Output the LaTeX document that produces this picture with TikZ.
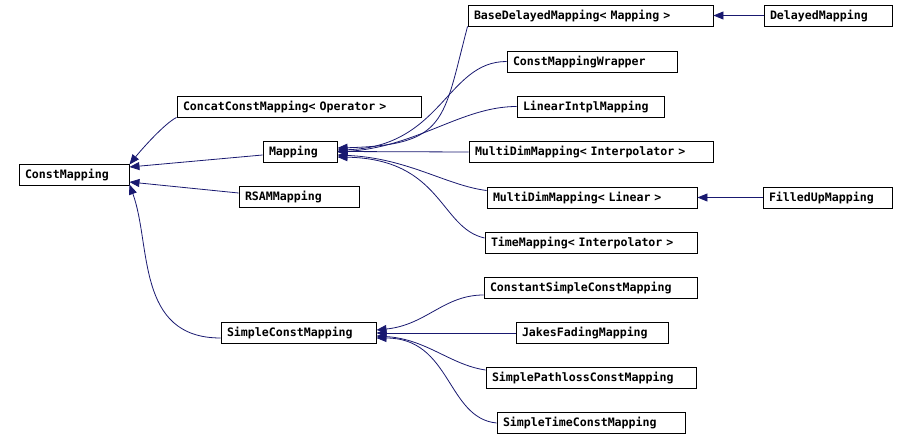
\documentclass[tikz,border=0pt]{standalone}
\usepackage{fontspec}
\newfontfamily\boxfont{DejaVu Sans Mono}
\usepackage{tikz}
\usetikzlibrary{arrows.meta}
\definecolor{edgeblue}{RGB}{25,25,112}

\begin{document}
\begin{tikzpicture}[x=1pt, y=-1pt, >={Triangle[length=10pt,width=8pt]},
  cls/.style={draw, line width=0.9pt, rectangle, minimum height=21pt, inner xsep=6pt, inner ysep=0pt,
    align=left, font=\boxfont\bfseries\fontsize{11.6}{12}\selectfont},
  inh/.style={draw=edgeblue, line width=0.8pt, ->, fill=none}]
  \useasboundingbox (0,0) rectangle (908,441);
  % base classes
  \node [cls, text width=98pt] (cm) at (74,174.5) {ConstMapping};
  \node [cls, text width=232pt] (concat) at (299,106.5) {ConcatConstMapping< Operator >};
  \node [cls, text width=62pt] (map) at (300,151.5) {Mapping};
  \node [cls, text width=108pt] (rsam) at (299,197) {RSAMMapping};
  \node [cls, text width=143pt] (scm) at (298.5,333) {SimpleConstMapping};
  % children of Mapping
  \node [cls, text width=233pt] (bdm) at (590.5,15.5) {BaseDelayedMapping< Mapping >};
  \node [cls, text width=158pt] (cmw) at (592,61.5) {ConstMappingWrapper};
  \node [cls, text width=135pt] (lin) at (590.5,106.5) {LinearIntplMapping};
  \node [cls, text width=232pt] (mdi) at (591,152) {MultiDimMapping< Interpolator >};
  \node [cls, text width=198pt] (mdl) at (592,197.5) {MultiDimMapping< Linear >};
  \node [cls, text width=200pt] (tm) at (591,242.5) {TimeMapping< Interpolator >};
  \node [cls, text width=116pt] (dm) at (828,15.5) {DelayedMapping};
  \node [cls, text width=117pt] (fum) at (827.5,197.5) {FilledUpMapping};
  % children of SimpleConstMapping
  \node [cls, text width=201pt] (cscm) at (590.5,287.5) {ConstantSimpleConstMapping};
  \node [cls, text width=140pt] (jfm) at (592,333) {JakesFadingMapping};
  \node [cls, text width=198pt] (spcm) at (591,378) {SimplePathlossConstMapping};
  \node [cls, text width=176pt] (stcm) at (591,423) {SimpleTimeConstMapping};

  % into ConstMapping
  \draw [inh] (concat.south west) .. controls +(-12,6) and +(12,-15) .. ([yshift=-1pt]cm.north east);
  \draw [inh] ([yshift=-3.5pt]map.west) -- ([yshift=7.5pt]cm.east);
  \draw [inh] ([yshift=4pt]rsam.west) -- ([yshift=-7.5pt]cm.east);
  \draw [inh] ([yshift=-5pt]scm.west) .. controls +(-85,0) and +(22,60) .. ([yshift=1pt]cm.south east);
  % into Mapping
  \draw [inh] (bdm.south west) .. controls +(-25,95) and +(110,-3) .. ([yshift=3.5pt]map.east);
  \draw [inh] (cmw.west) .. controls +(-60,0) and +(105,-3) .. ([yshift=1.5pt]map.east);
  \draw [inh] (lin.west) .. controls +(-55,0) and +(80,-5) .. ([yshift=-0.5pt]map.east);
  \draw [inh] (mdi.west) -- (map.east);
  \draw [inh] ([yshift=7pt]mdl.west) .. controls +(-40,-5) and +(70,3) .. ([yshift=-3.5pt]map.east);
  \draw [inh] ([yshift=4.5pt]tm.west) .. controls +(-45,-10) and +(105,2) .. ([yshift=-5.5pt]map.east);
  \draw [inh] (dm.west) -- (bdm.east);
  \draw [inh] (fum.west) -- (mdl.east);
  % into SimpleConstMapping
  \draw [inh] ([yshift=-7.5pt]cscm.west) .. controls +(-40,0) and +(50,-5) .. ([yshift=3pt]scm.east);
  \draw [inh] (jfm.west) -- (scm.east);
  \draw [inh] ([yshift=8pt]spcm.west) .. controls +(-35,-5) and +(50,3) .. ([yshift=-3pt]scm.east);
  \draw [inh] (stcm.west) .. controls +(-50,-5) and +(75,0) .. ([yshift=-5pt]scm.east);
\end{tikzpicture}
\end{document}
